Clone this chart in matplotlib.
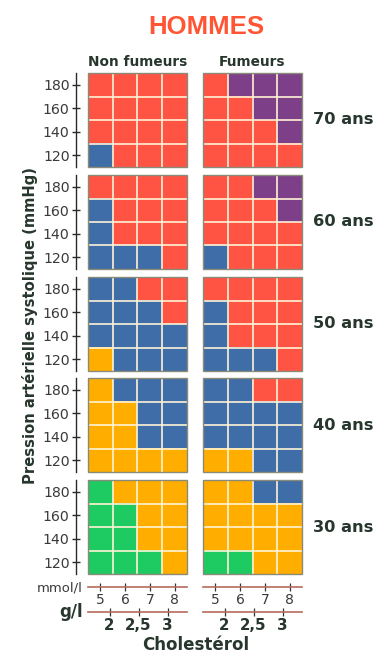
import matplotlib
matplotlib.use("Agg")
import matplotlib.pyplot as plt
from matplotlib.colors import ListedColormap
from matplotlib.patches import Rectangle
import numpy as np

# ---------------- data ----------------
title = "HOMMES"
columns = ["Non fumeurs", "Fumeurs"]
ages = ["70 ans", "60 ans", "50 ans", "40 ans", "30 ans"]
pas_ticks = [120, 140, 160, 180]          # mmHg (cell centres)
mmol_ticks = [5, 6, 7, 8]                  # cholesterol mmol/l (cell centres)
gl_ticks = [2, 2.5, 3]                     # cholesterol g/l
gl_labels = ["2", "2,5", "3"]
# risk level codes: 0 green, 1 orange, 2 blue, 3 red, 4 purple
# rows from 180 (top) to 120 (bottom), columns 5..8 mmol/l
risk_non_fumeurs = [
    [[3, 3, 3, 3], [3, 3, 3, 3], [3, 3, 3, 3], [2, 3, 3, 3]],   # 70
    [[3, 3, 3, 3], [2, 3, 3, 3], [2, 3, 3, 3], [2, 2, 2, 3]],   # 60
    [[2, 2, 3, 3], [2, 2, 2, 3], [2, 2, 2, 2], [1, 2, 2, 2]],   # 50
    [[1, 2, 2, 2], [1, 1, 2, 2], [1, 1, 2, 2], [1, 1, 1, 1]],   # 40
    [[0, 1, 1, 1], [0, 0, 1, 1], [0, 0, 1, 1], [0, 0, 0, 1]],   # 30
]
risk_fumeurs = [
    [[3, 4, 4, 4], [3, 3, 4, 4], [3, 3, 3, 4], [3, 3, 3, 3]],   # 70
    [[3, 3, 4, 4], [3, 3, 3, 4], [3, 3, 3, 3], [2, 3, 3, 3]],   # 60
    [[3, 3, 3, 3], [2, 3, 3, 3], [2, 3, 3, 3], [2, 2, 2, 3]],   # 50
    [[2, 2, 3, 3], [2, 2, 2, 2], [2, 2, 2, 2], [1, 1, 2, 2]],   # 40
    [[1, 1, 2, 2], [1, 1, 1, 1], [1, 1, 1, 1], [0, 0, 1, 1]],   # 30
]
risk_colors = ["#1ECB62", "#FFAE00", "#3F6DA8", "#FF5343", "#7C3F88"]

# ---------------- layout ----------------
W, H = 390, 658
fig = plt.figure(figsize=(W / 100, H / 100), dpi=100)
fig.patch.set_facecolor("white")

def px_axes(x0, top, w, h):
    return fig.add_axes([x0 / W, 1 - (top + h) / H, w / W, h / H])

col_x = [88, 203]
grid_w = 99
grid_h = 94
row_top = [73, 175, 277, 378, 480]
dark = "#27372d"
cmap = ListedColormap(risk_colors)
grid_line = "#FFF3D6"

for ci, data in enumerate([risk_non_fumeurs, risk_fumeurs]):
    for ri, age in enumerate(ages):
        ax = px_axes(col_x[ci], row_top[ri], grid_w, grid_h)
        arr = np.array(data[ri])
        ax.imshow(arr, cmap=cmap, vmin=-0.5, vmax=len(risk_colors) - 0.5,
                  extent=(4.5, 8.5, 110, 190), origin="upper",
                  aspect="auto", interpolation="nearest")
        for xv in [5.5, 6.5, 7.5]:
            ax.axvline(xv, color=grid_line, lw=1.2)
        for yv in [130, 150, 170]:
            ax.axhline(yv, color=grid_line, lw=1.2)
        ax.set_xlim(4.5, 8.5)
        ax.set_ylim(110, 190)
        ax.set_xticks([])
        for s in ["top", "right", "bottom"]:
            ax.spines[s].set_visible(False)
        ax.add_patch(Rectangle((0, 0), 1, 1, transform=ax.transAxes, fill=False,
                               ec="#8a8a78", lw=1.0, clip_on=False, zorder=5))
        if ci == 0:
            ax.spines["left"].set_position(("outward", 9))
            ax.spines["left"].set_color("#2a2a2a")
            ax.spines["left"].set_linewidth(1.0)
            ax.set_yticks(pas_ticks)
            ax.tick_params(axis="y", direction="inout", length=6, width=1,
                           pad=1.2, labelsize=10.2, colors="#2a2a2a",
                           labelcolor="#3a3a3a")
        else:
            ax.spines["left"].set_visible(False)
            ax.set_yticks([])
            fig.text(313 / W, 1 - (row_top[ri] + grid_h / 2) / H, age,
                     ha="left", va="center", fontsize=11.7,
                     fontweight="bold", color=dark)

# column headers
for ci, name in enumerate(columns):
    fig.text((col_x[ci] + grid_w / 2) / W, 1 - 62 / H, name, ha="center",
             va="center", fontsize=9.8, fontweight="bold", color=dark)

# title
fig.text(206 / W, 1 - 27 / H, title, ha="center", va="center",
         fontsize=18.5, fontweight="bold", color="#FF5535",
         family=["Liberation Sans", "DejaVu Sans"])

# y label
fig.text(30 / W, 1 - 326 / H, "Pression artérielle systolique (mmHg)",
         rotation=90, ha="center", va="center", fontsize=10.6,
         fontweight="bold", color=dark)

# cholesterol axes
axis_red = "#B76A5E"
for ci in range(2):
    # mmol/l
    am = px_axes(col_x[ci], 586, grid_w, 1)
    am.set_xlim(4.5, 8.5)
    am.set_ylim(0, 1)
    for s in ["top", "left", "right"]:
        am.spines[s].set_visible(False)
    am.spines["bottom"].set_color(axis_red)
    am.spines["bottom"].set_linewidth(1.2)
    am.set_yticks([])
    am.set_xticks(mmol_ticks)
    am.set_xticklabels([str(v) for v in mmol_ticks])
    am.tick_params(axis="x", direction="inout", length=6, width=0.9,
                   colors="#333333", labelsize=10, pad=1.5,
                   labelcolor="#3a3a3a")
    am.patch.set_alpha(0)
    # g/l
    ag = px_axes(col_x[ci], 611, grid_w, 1)
    ag.set_xlim(1.629, 3.336)
    ag.set_ylim(0, 1)
    for s in ["top", "left", "right"]:
        ag.spines[s].set_visible(False)
    ag.spines["bottom"].set_color(axis_red)
    ag.spines["bottom"].set_linewidth(1.2)
    ag.set_yticks([])
    ag.set_xticks(gl_ticks)
    ag.set_xticklabels(gl_labels, fontweight="bold")
    ag.tick_params(axis="x", direction="inout", length=6, width=0.9,
                   colors="#333333", labelsize=10.8, pad=1.5,
                   labelcolor=dark)
    ag.patch.set_alpha(0)

fig.text(83 / W, 1 - 588 / H, "mmol/l", ha="right", va="center",
         fontsize=9.5, color="#3a3a3a")
fig.text(83 / W, 1 - 612 / H, "g/l", ha="right", va="center",
         fontsize=12, fontweight="bold", color=dark)
fig.text(196 / W, 1 - 645 / H, "Cholestérol", ha="center", va="center",
         fontsize=12, fontweight="bold", color=dark)

fig.savefig("out.png", dpi=100, facecolor="white")
